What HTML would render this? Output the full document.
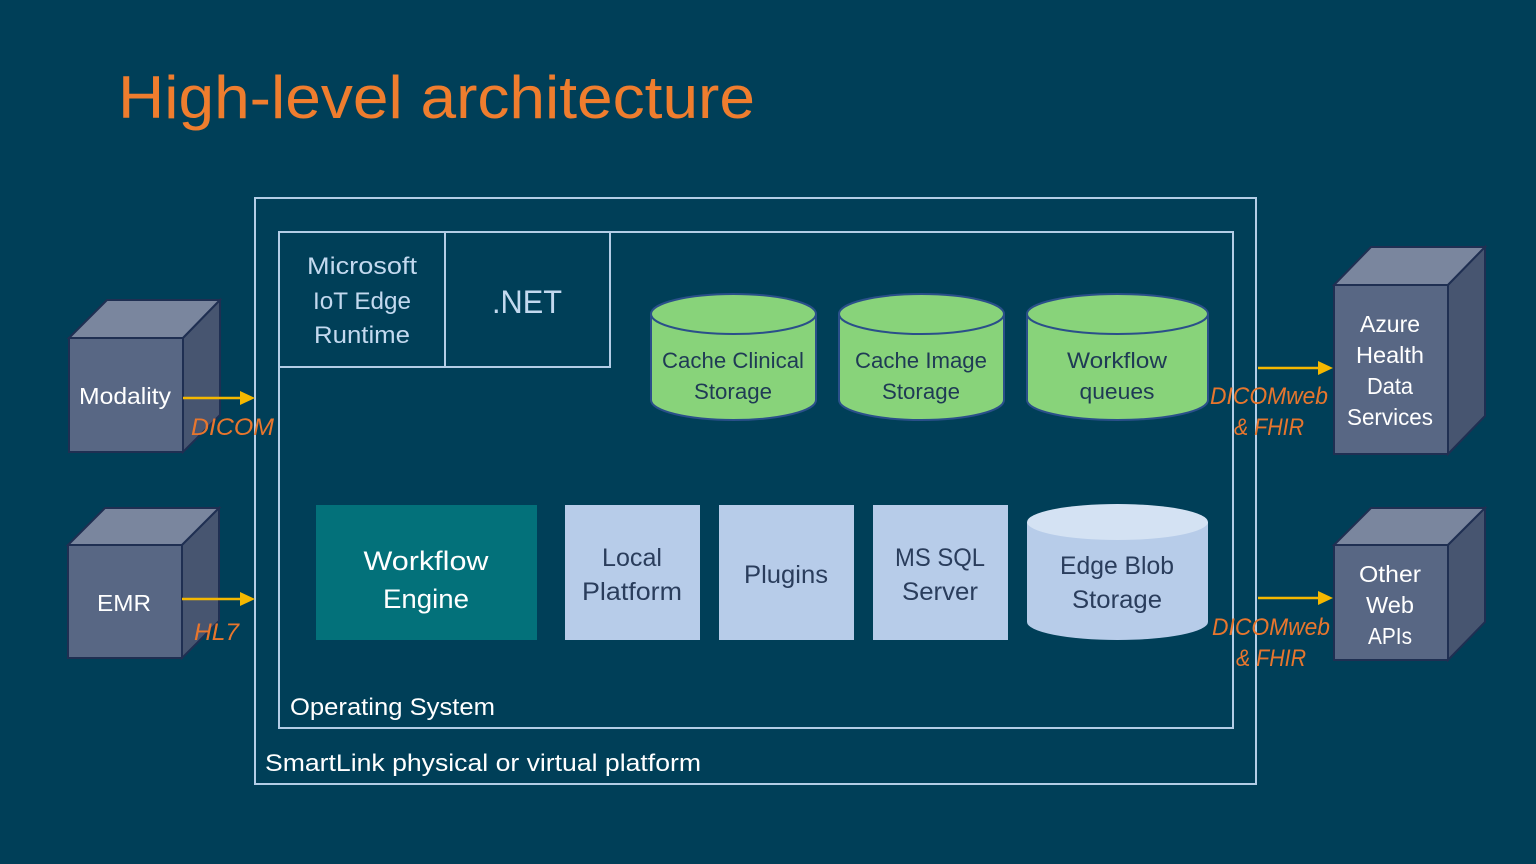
<!DOCTYPE html>
<html><head><meta charset="utf-8"><style>
html,body{margin:0;padding:0;background:#003f58;}
svg{display:block;}
text{font-family:"Liberation Sans",sans-serif;}
</style></head><body>
<svg width="1536" height="864" viewBox="0 0 1536 864" xmlns="http://www.w3.org/2000/svg">
<rect width="1536" height="864" fill="#003f58"/>
<text x="118" y="118" font-size="60" fill="#ef7d2e" textLength="637" lengthAdjust="spacingAndGlyphs">High-level architecture</text>

<!-- outer/inner frames -->
<rect x="255" y="198" width="1001" height="586" fill="none" stroke="#b3cde6" stroke-width="2"/>
<rect x="279" y="232" width="954" height="496" fill="none" stroke="#b3cde6" stroke-width="2"/>
<rect x="279" y="232" width="166" height="135" fill="none" stroke="#b3cde6" stroke-width="2"/>
<rect x="445" y="232" width="165" height="135" fill="none" stroke="#b3cde6" stroke-width="2"/>
<g fill="#c3d9ef" font-size="24" text-anchor="middle">
<text x="362" y="274" textLength="110" lengthAdjust="spacingAndGlyphs">Microsoft</text>
<text x="362" y="309" textLength="98" lengthAdjust="spacingAndGlyphs">IoT Edge</text>
<text x="362" y="343" textLength="96" lengthAdjust="spacingAndGlyphs">Runtime</text>
<text x="527" y="313" font-size="32" textLength="70" lengthAdjust="spacingAndGlyphs">.NET</text>
</g>
<text x="290" y="715" font-size="24" fill="#fff" textLength="205" lengthAdjust="spacingAndGlyphs">Operating System</text>
<text x="265" y="771" font-size="24" fill="#fff" textLength="436" lengthAdjust="spacingAndGlyphs">SmartLink physical or virtual platform</text>

<!-- green cylinders -->
<g stroke="#2a4f8a" stroke-width="2" fill="#88d37a">
<path d="M651 314 V400 A82.5 20 0 0 0 816 400 V314"/>
<ellipse cx="733.5" cy="314" rx="82.5" ry="20"/>
<path d="M839 314 V400 A82.5 20 0 0 0 1004 400 V314"/>
<ellipse cx="921.5" cy="314" rx="82.5" ry="20"/>
<path d="M1027 314 V400 A90.5 20 0 0 0 1208 400 V314"/>
<ellipse cx="1117.5" cy="314" rx="90.5" ry="20"/>
</g>
<g fill="#1f3a55" font-size="22" text-anchor="middle">
<text x="733" y="368" textLength="142" lengthAdjust="spacingAndGlyphs">Cache Clinical</text>
<text x="733" y="399" textLength="78" lengthAdjust="spacingAndGlyphs">Storage</text>
<text x="921" y="368" textLength="132" lengthAdjust="spacingAndGlyphs">Cache Image</text>
<text x="921" y="399" textLength="78" lengthAdjust="spacingAndGlyphs">Storage</text>
<text x="1117" y="368" textLength="100" lengthAdjust="spacingAndGlyphs">Workflow</text>
<text x="1117" y="399" textLength="75" lengthAdjust="spacingAndGlyphs">queues</text>
</g>

<!-- bottom row -->
<rect x="316" y="505" width="221" height="135" fill="#03717a"/>
<g fill="#fff" font-size="27" text-anchor="middle">
<text x="426" y="570" textLength="125" lengthAdjust="spacingAndGlyphs">Workflow</text>
<text x="426" y="608" textLength="86" lengthAdjust="spacingAndGlyphs">Engine</text>
</g>
<g fill="#b7cce9">
<rect x="565" y="505" width="135" height="135"/>
<rect x="719" y="505" width="135" height="135"/>
<rect x="873" y="505" width="135" height="135"/>
<path d="M1027 522 V622 A90.5 18 0 0 0 1208 622 V522"/>
</g>
<ellipse cx="1117.5" cy="522" rx="90.5" ry="18" fill="#d4e2f3"/>
<g fill="#2a3d5c" font-size="25" text-anchor="middle">
<text x="632" y="566" textLength="60" lengthAdjust="spacingAndGlyphs">Local</text>
<text x="632" y="600" textLength="100" lengthAdjust="spacingAndGlyphs">Platform</text>
<text x="786" y="583" textLength="84" lengthAdjust="spacingAndGlyphs">Plugins</text>
<text x="940" y="566" textLength="90" lengthAdjust="spacingAndGlyphs">MS SQL</text>
<text x="940" y="600" textLength="76" lengthAdjust="spacingAndGlyphs">Server</text>
<text x="1117" y="574" textLength="114" lengthAdjust="spacingAndGlyphs">Edge Blob</text>
<text x="1117" y="608" textLength="90" lengthAdjust="spacingAndGlyphs">Storage</text>
</g>

<!-- cubes -->
<g stroke="#1f2f52" stroke-width="2">
<polygon points="69,338 107,300 220,300 183,338" fill="#7a869e"/>
<polygon points="183,338 220,300 220,415 183,452" fill="#475570"/>
<rect x="69" y="338" width="114" height="114" fill="#586784"/>
<polygon points="68,545 105,508 219,508 182,545" fill="#7a869e"/>
<polygon points="182,545 219,508 219,621 182,658" fill="#475570"/>
<rect x="68" y="545" width="114" height="113" fill="#586784"/>
<polygon points="1334,285 1371,247 1485,247 1448,285" fill="#7a869e"/>
<polygon points="1448,285 1485,247 1485,416 1448,454" fill="#475570"/>
<rect x="1334" y="285" width="114" height="169" fill="#586784"/>
<polygon points="1334,545 1371,508 1485,508 1448,545" fill="#7a869e"/>
<polygon points="1448,545 1485,508 1485,622 1448,660" fill="#475570"/>
<rect x="1334" y="545" width="114" height="115" fill="#586784"/>
</g>
<g fill="#fff" font-size="23" text-anchor="middle">
<text x="125" y="404" textLength="92" lengthAdjust="spacingAndGlyphs">Modality</text>
<text x="124" y="611" textLength="54" lengthAdjust="spacingAndGlyphs">EMR</text>
<text x="1390" y="332" textLength="60" lengthAdjust="spacingAndGlyphs">Azure</text>
<text x="1390" y="363" textLength="68" lengthAdjust="spacingAndGlyphs">Health</text>
<text x="1390" y="394" textLength="46" lengthAdjust="spacingAndGlyphs">Data</text>
<text x="1390" y="425" textLength="86" lengthAdjust="spacingAndGlyphs">Services</text>
<text x="1390" y="582" textLength="62" lengthAdjust="spacingAndGlyphs">Other</text>
<text x="1390" y="613" textLength="48" lengthAdjust="spacingAndGlyphs">Web</text>
<text x="1390" y="644" textLength="44" lengthAdjust="spacingAndGlyphs">APIs</text>
</g>

<!-- arrows -->
<g stroke="#f5b800" stroke-width="2.5">
<line x1="183" y1="398" x2="242" y2="398"/>
<line x1="182" y1="599" x2="242" y2="599"/>
<line x1="1258" y1="368" x2="1320" y2="368"/>
<line x1="1258" y1="598" x2="1320" y2="598"/>
</g>
<g fill="#f5b800">
<polygon points="240,391 255,398 240,405"/>
<polygon points="240,592 255,599 240,606"/>
<polygon points="1318,361 1333,368 1318,375"/>
<polygon points="1318,591 1333,598 1318,605"/>
</g>
<g fill="#e8762d" font-size="24" font-style="italic">
<text x="191" y="435" textLength="83" lengthAdjust="spacingAndGlyphs">DICOM</text>
<text x="194" y="640" textLength="45" lengthAdjust="spacingAndGlyphs">HL7</text>
<text x="1210" y="404" textLength="118" lengthAdjust="spacingAndGlyphs">DICOMweb</text>
<text x="1234" y="435" textLength="70" lengthAdjust="spacingAndGlyphs">&amp; FHIR</text>
<text x="1212" y="635" textLength="118" lengthAdjust="spacingAndGlyphs">DICOMweb</text>
<text x="1236" y="666" textLength="70" lengthAdjust="spacingAndGlyphs">&amp; FHIR</text>
</g>
</svg>
</body></html>
